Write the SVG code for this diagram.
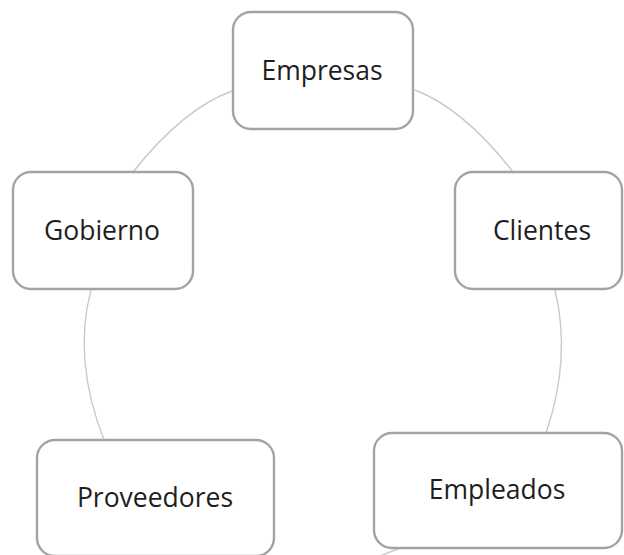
<svg xmlns="http://www.w3.org/2000/svg" width="624" height="555" viewBox="0 0 624 555">
<style>
.arc{fill:none;stroke:#c9c9c9;stroke-width:1.4}
.box{fill:#ffffff;stroke:#a3a3a3;stroke-width:2.4}
.lbl{font-family:"Open Sans","Liberation Sans",sans-serif;font-size:26.5px;fill:#1e1e1e;text-anchor:middle}
</style>
<rect width="624" height="555" fill="#ffffff"/>
<g id="connectors">
<path class="arc" d="M232,91 Q183.5,108.5 133,172"/>
<path class="arc" d="M415,90 Q463.5,108.5 513,172"/>
<path class="arc" d="M91,290 Q72.5,359 104,440"/>
<path class="arc" d="M555,290 Q571.5,358.5 546,433"/>
<path class="arc" d="M400,548 Q380,556 355,566"/>
</g>
<g id="empresas">
<rect class="box" x="233" y="12" width="180" height="117" rx="18"/>
<text class="lbl" x="322" y="80">Empresas</text>
</g>
<g id="gobierno">
<rect class="box" x="13" y="172" width="180" height="117" rx="18"/>
<text class="lbl" x="102" y="240">Gobierno</text>
</g>
<g id="clientes">
<rect class="box" x="455" y="172" width="167" height="117" rx="18"/>
<text class="lbl" x="542" y="240">Clientes</text>
</g>
<g id="proveedores">
<rect class="box" x="37" y="440" width="237" height="116" rx="18"/>
<text class="lbl" x="155" y="507">Proveedores</text>
</g>
<g id="empleados">
<rect class="box" x="374" y="433" width="248" height="115" rx="18"/>
<text class="lbl" x="497" y="499">Empleados</text>
</g>
</svg>
